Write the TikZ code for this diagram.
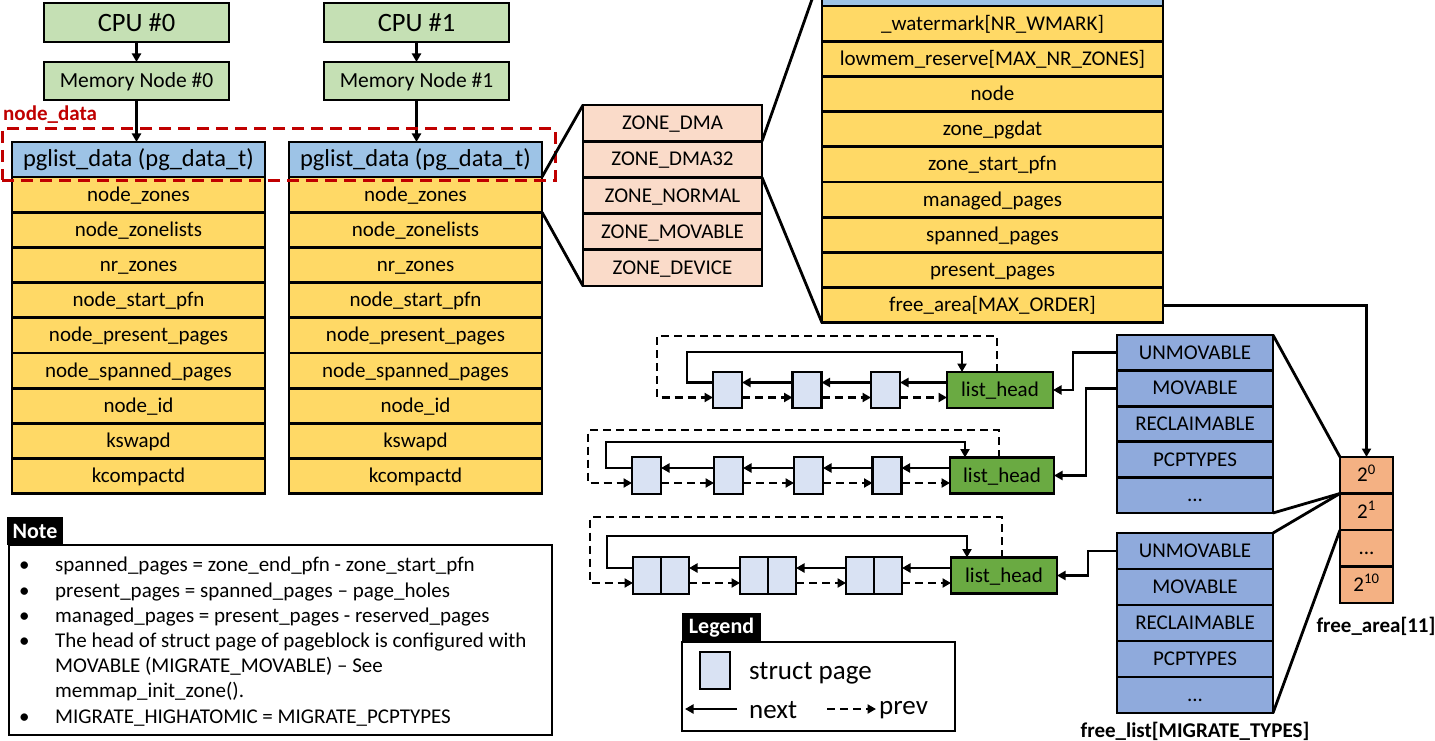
\documentclass[tikz,border=0pt]{standalone}
\usepackage{fontspec}
\setmainfont{Carlito}
\usetikzlibrary{arrows.meta}
\definecolor{cpugreen}{HTML}{C5E0B4}
\definecolor{hdrblue}{HTML}{9DC3E6}
\definecolor{rowyellow}{HTML}{FFD966}
\definecolor{zonepeach}{HTML}{FADBC9}
\definecolor{faorange}{HTML}{F4B183}
\definecolor{flblue}{HTML}{8FAADC}
\definecolor{lhgreen}{HTML}{6AAA42}
\definecolor{spblue}{HTML}{D9E2F3}
\definecolor{ndred}{HTML}{C00000}
\newcommand\mythreedots{...}
\begin{document}
\begin{tikzpicture}[x=1pt,y=-1pt,
  box/.style={draw=black, line width=2.8pt, inner sep=0pt, outer sep=0pt, text=black},
  cpubox/.style={box, fill=cpugreen, minimum width=185pt},
  hdr/.style={box, fill=hdrblue, minimum height=35pt, font=\fontsize{24.5}{28}\selectfont, text height=17pt, text depth=3pt},
  yrow/.style={box, fill=rowyellow, minimum height=35.2pt, font=\fontsize{21}{25}\selectfont, text height=15.5pt, text depth=2.5pt},
  zrow/.style={box, fill=zonepeach, minimum width=179pt, minimum height=36.2pt, font=\fontsize{21}{25}\selectfont, text height=15.5pt, text depth=2.5pt},
  farow/.style={box, fill=faorange, minimum width=53pt, minimum height=36.5pt, font=\fontsize{21}{25}\selectfont, text height=15.5pt, text depth=2.5pt},
  flrow/.style={box, fill=flblue, minimum width=156pt, font=\fontsize{21}{25}\selectfont, text height=15.5pt, text depth=2.5pt},
  lhbox/.style={box, fill=lhgreen, minimum height=36pt, font=\fontsize{21}{25}\selectfont, text height=15.5pt, text depth=2.5pt},
  spbox/.style={box, fill=spblue, minimum width=29pt, minimum height=36pt},
  tabbox/.style={fill=black, text=white, inner sep=0pt, font=\bfseries\fontsize{22}{26}\selectfont},
  conn/.style={line width=2.8pt, draw=black},
  arr/.style={conn, -{Triangle[length=8.5pt,width=9pt]}},
  dsh/.style={dash pattern=on 8pt off 5pt},
  lbl/.style={inner sep=0pt, font=\bfseries\fontsize{21}{25}\selectfont},
  legtxt/.style={anchor=west, inner sep=0pt, font=\fontsize{27}{31}\selectfont},
]
\useasboundingbox (0,0) rectangle (1435,741);
\fill[white] (0,0) rectangle (1435,741);
\clip (0,0) rectangle (1435,741);

% CPUs and memory nodes
\node[cpubox, minimum height=39pt, font=\fontsize{26.5}{30}\selectfont, text height=19pt, text depth=1pt] (cpu0) at (136.5,22.5) {CPU \#0};
\node[cpubox, minimum height=39pt, font=\fontsize{26.5}{30}\selectfont, text height=19pt, text depth=1pt] (cpu1) at (416.5,22.5) {CPU \#1};
\node[cpubox, minimum height=38pt, font=\fontsize{21.5}{25}\selectfont, text height=15.5pt, text depth=2.5pt] (mem0) at (136.5,81) {Memory Node \#0};
\node[cpubox, minimum height=38pt, font=\fontsize{21.5}{25}\selectfont, text height=15.5pt, text depth=2.5pt] (mem1) at (416.5,81) {Memory Node \#1};

% pglist_data
\node[hdr, minimum width=253pt] (pah) at (138.5,159.5) {pglist\_data (pg\_data\_t)};
\node[hdr, minimum width=253pt] (pbh) at (415.5,159.5) {pglist\_data (pg\_data\_t)};
\foreach \t [count=\i] in {node\_zones,node\_zonelists,nr\_zones,node\_start\_pfn,node\_present\_pages,node\_spanned\_pages,node\_id,kswapd,kcompactd}{
  \node[yrow, minimum width=253pt] (pa\i) at (138.5,{177+35.2*(\i-0.5)}) {\t};
  \node[yrow, minimum width=253pt] (pb\i) at (415.5,{177+35.2*(\i-0.5)}) {\t};
}

\draw[arr] (cpu0.south) -- (mem0.north);
\draw[arr] (cpu1.south) -- (mem1.north);
\draw[arr] (mem0.south) -- (mem0.south |- pah.north);
\draw[arr] (mem1.south) -- (mem1.south |- pbh.north);

% node_data
\node[draw=ndred, line width=3pt, dash pattern=on 12pt off 7pt, minimum width=553pt, minimum height=51pt, inner sep=0pt] (ndbox) at (278.5,154.5) {};
\node[lbl, anchor=west, text=ndred] (ndlabel) at (3,115) {node\_data};

% zones
\foreach \t [count=\i] in {ZONE\_DMA,ZONE\_DMA32,ZONE\_NORMAL,ZONE\_MOVABLE,ZONE\_DEVICE}{
  \node[zrow] (z\i) at (672.5,{105+36.2*(\i-0.5)}) {\t};
}
\draw[conn] (pb1.north east) -- (z1.north west);
\draw[conn] (pb1.south east) -- (z5.south west);

% zone struct
\node[hdr, minimum width=341pt] (zsh) at (992.5,-11.5) {};
\foreach \t [count=\i] in {{\_watermark[NR\_WMARK]},{lowmem\_reserve[MAX\_NR\_ZONES]},{node},{zone\_pgdat},{zone\_start\_pfn},{managed\_pages},{spanned\_pages},{present\_pages},{free\_area[MAX\_ORDER]}}{
  \node[yrow, minimum width=341pt] (zs\i) at (992.5,{6+35.2*(\i-0.5)}) {\t};
}
\draw[conn] (z2.north east) -- (zsh.north west);
\draw[conn] (z2.south east) -- (zs9.south west);

% free_area
\node[farow] (fa1) at (1366.5,475.25) {2\textsuperscript{0}};
\node[farow] (fa2) at (1366.5,511.75) {2\textsuperscript{1}};
\node[farow] (fa3) at (1366.5,548.25) {\mythreedots};
\node[farow] (fa4) at (1366.5,584.75) {2\textsuperscript{10}};
\node[lbl] (falabel) at (1376,626) {free\_area[11]};
\draw[arr] (zs9.east) -| (fa1.north);

% free lists
\foreach \t [count=\i] in {UNMOVABLE,MOVABLE,RECLAIMABLE,PCPTYPES,\mythreedots}{
  \node[flrow, minimum height=35.6pt] (fla\i) at (1195,{335+35.6*(\i-0.5)}) {\t};
  \node[flrow, minimum height=36pt] (flb\i) at (1195,{533+36*(\i-0.5)}) {\t};
}
\node[lbl] (fllabel) at (1195,731) {free\_list[MIGRATE\_TYPES]};
\draw[conn] (fla1.north east) -- (fa1.north west);
\draw[conn] (fla5.south east) -- (fa1.south west);
\draw[conn] (flb1.north east) -- (fa2.north west);
\draw[conn] (flb5.south east) -- (fa2.south west);

% list heads
\node[lhbox, minimum width=106pt] (lh1) at (1000,390) {list\_head};
\node[lhbox, minimum width=104pt] (lh2) at (1002,475.5) {list\_head};
\node[lhbox, minimum width=106pt] (lh3) at (1004,575.5) {list\_head};
\draw[arr] (fla1.west) -- ++(-44,0) |- (lh1.east);
\draw[arr] (fla2.west) -- ++(-31,0) |- (lh2.east);
\draw[arr] (flb1.west) -- ++(-29,0) |- (lh3.east);

% list 1
\node[spbox] (s1a) at (727.5,390) {};
\node[spbox] (s1b) at (807,390) {};
\node[spbox] (s1c) at (885.5,390) {};
\draw[arr] ([yshift=7.5pt]lh1.west) -- ([yshift=7.5pt]s1c.east);
\draw[arr] ([yshift=7.5pt]s1c.west) -- ([yshift=7.5pt]s1b.east);
\draw[arr] ([yshift=7.5pt]s1b.west) -- ([yshift=7.5pt]s1a.east);
\draw[arr,dsh] ([yshift=-7.5pt]s1a.east) -- ([yshift=-7.5pt]s1b.west);
\draw[arr,dsh] ([yshift=-7.5pt]s1b.east) -- ([yshift=-7.5pt]s1c.west);
\draw[arr,dsh] ([yshift=-7.5pt]s1c.east) -- ([yshift=-7.5pt]lh1.west);
\draw[arr] ([yshift=7.5pt]s1a.west) -| (687,352) -| ([xshift=-38pt]lh1.north);
\draw[arr,dsh] ([xshift=-3pt]lh1.north) |- (657,336) |- ([yshift=-7.5pt]s1a.west);

% list 2
\node[spbox, minimum height=37pt] (s2a) at (646.5,475.5) {};
\node[spbox, minimum height=37pt] (s2b) at (728.5,475.5) {};
\node[spbox, minimum height=37pt] (s2c) at (808.5,475.5) {};
\node[spbox, minimum height=37pt] (s2d) at (887,475.5) {};
\draw[arr] ([yshift=7.5pt]lh2.west) -- ([yshift=7.5pt]s2d.east);
\draw[arr] ([yshift=7.5pt]s2d.west) -- ([yshift=7.5pt]s2c.east);
\draw[arr] ([yshift=7.5pt]s2c.west) -- ([yshift=7.5pt]s2b.east);
\draw[arr] ([yshift=7.5pt]s2b.west) -- ([yshift=7.5pt]s2a.east);
\draw[arr,dsh] ([yshift=-7.5pt]s2a.east) -- ([yshift=-7.5pt]s2b.west);
\draw[arr,dsh] ([yshift=-7.5pt]s2b.east) -- ([yshift=-7.5pt]s2c.west);
\draw[arr,dsh] ([yshift=-7.5pt]s2c.east) -- ([yshift=-7.5pt]s2d.west);
\draw[arr,dsh] ([yshift=-7.5pt]s2d.east) -- ([yshift=-7.5pt]lh2.west);
\draw[arr] ([yshift=7.5pt]s2a.west) -| (606,442) -| ([xshift=-37pt]lh2.north);
\draw[arr,dsh] ([xshift=-3pt]lh2.north) |- (588,430) |- ([yshift=-7.5pt]s2a.west);

% list 3 (double pages)
\node[spbox, minimum width=28pt, minimum height=37pt] (s3a1) at (647,575.5) {};
\node[spbox, minimum width=28pt, minimum height=37pt] (s3a2) at (675,575.5) {};
\node[spbox, minimum width=28pt, minimum height=37pt] (s3b1) at (754,575.5) {};
\node[spbox, minimum width=28pt, minimum height=37pt] (s3b2) at (782,575.5) {};
\node[spbox, minimum width=28pt, minimum height=37pt] (s3c1) at (860,575.5) {};
\node[spbox, minimum width=28pt, minimum height=37pt] (s3c2) at (888,575.5) {};
\draw[arr] ([yshift=7.5pt]lh3.west) -- ([yshift=7.5pt]s3c2.east);
\draw[arr] ([yshift=7.5pt]s3c1.west) -- ([yshift=7.5pt]s3b2.east);
\draw[arr] ([yshift=7.5pt]s3b1.west) -- ([yshift=7.5pt]s3a2.east);
\draw[arr,dsh] ([yshift=-7.5pt]s3a2.east) -- ([yshift=-7.5pt]s3b1.west);
\draw[arr,dsh] ([yshift=-7.5pt]s3b2.east) -- ([yshift=-7.5pt]s3c1.west);
\draw[arr,dsh] ([yshift=-7.5pt]s3c2.east) -- ([yshift=-7.5pt]lh3.west);
\draw[arr] ([yshift=7.5pt]s3a1.west) -| (607,536) -| ([xshift=-37pt]lh3.north);
\draw[arr,dsh] ([xshift=-2pt]lh3.north) |- (590,517) |- ([yshift=-7.5pt]s3a1.west);

% Note
\node[box, fill=white, line width=2.4pt, minimum width=543pt, minimum height=190pt] (notebox) at (280.5,640) {};
\node[tabbox, minimum width=56pt, minimum height=28pt] (notetab) at (35,531) {Note};
\node[anchor=north west, inner sep=0pt, font=\fontsize{21}{25.2}\selectfont] (notetxt) at (19,554) {%
\begin{tabular}{@{}p{36pt}@{}l@{}}
\textbullet & spanned\_pages = zone\_end\_pfn - zone\_start\_pfn\\
\textbullet & present\_pages = spanned\_pages – page\_holes\\
\textbullet & managed\_pages = present\_pages - reserved\_pages\\
\textbullet & The head of struct page of pageblock is configured with\\
 & MOVABLE (MIGRATE\_MOVABLE) – See\\
 & memmap\_init\_zone().\\
\textbullet & MIGRATE\_HIGHATOMIC = MIGRATE\_PCPTYPES
\end{tabular}};

% Legend
\node[box, fill=white, line width=2.4pt, minimum width=273pt, minimum height=89pt] (legbox) at (818.5,686.5) {};
\node[tabbox, minimum width=79pt, minimum height=29pt] (legtab) at (721.5,627.5) {Legend};
\node[spbox, minimum width=30pt, minimum height=37pt] (legsp) at (715,670.5) {};
\node[legtxt] (legsptxt) at (749,673) {struct page};
\coordinate (ln1) at (737,709);
\coordinate (ln2) at (685,709);
\coordinate (lp1) at (827,709);
\coordinate (lp2) at (876,709);
\draw[arr] (ln1) -- (ln2);
\draw[arr,dsh] (lp1) -- (lp2);
\node[legtxt] (legnext) at (749,710) {next};
\node[legtxt] (legprev) at (879,710) {prev};
\end{tikzpicture}
\end{document}
